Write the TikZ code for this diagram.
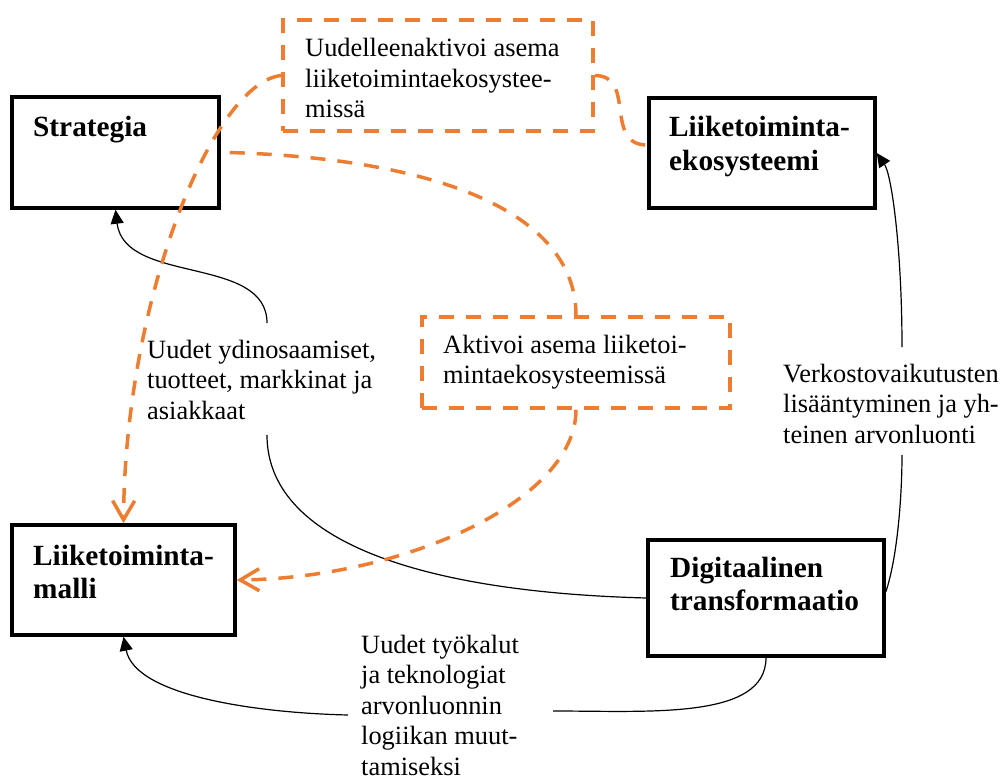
\documentclass[tikz,border=0pt]{standalone}
\usepackage{fontspec}
\setmainfont{Liberation Serif}
\usetikzlibrary{arrows.meta}
\definecolor{orng}{RGB}{237,125,49}
\begin{document}
\begin{tikzpicture}[x=1pt,y=-1pt,
  blackbox/.style={draw=black, line width=3.5pt, inner sep=0pt},
  orangebox/.style={draw=orng, line width=3.5pt, inner sep=0pt, dash pattern=on 15pt off 12pt},
  boxtext/.style={anchor=base west, inner sep=0pt, align=left, font=\fontsize{29.3}{33.5}\selectfont\bfseries},
  plaintext/.style={anchor=base west, inner sep=0pt, align=left, font=\fontsize{26.4}{30.5}\selectfont},
  blk/.style={draw=black, line width=1.2pt},
  blkarrow/.style={blk, -{Triangle[length=14pt,width=13pt]}},
  orn/.style={draw=orng, line width=3.5pt, dash pattern=on 15pt off 12pt},
  ornarrow/.style={orn, -{Straight Barb[length=19pt,width=22pt,line width=3.5pt]}}
]
\useasboundingbox (0,0) rectangle (1005,781);

% boxes
\node[blackbox, minimum width=207pt, minimum height=111pt] (strat) at (115.5,152.5) {};
\node[blackbox, minimum width=226pt, minimum height=110pt] (eko) at (762,153) {};
\node[blackbox, minimum width=223pt, minimum height=110pt] (mod) at (123.5,580) {};
\node[blackbox, minimum width=236pt, minimum height=116pt] (dt) at (766,598) {};
\node[orangebox, minimum width=310pt, minimum height=111pt] (box1) at (438,75.5) {};
\node[orangebox, minimum width=308pt, minimum height=91pt] (box2) at (576,362.5) {};

% box texts (anchor = baseline of the last line)
\node[boxtext] (tstrat) at (33,137) {Strategia};
\node[boxtext] (teko) at (669,170.5) {Liiketoiminta-\\ekosysteemi};
\node[boxtext] (tmod) at (33,598.5) {Liiketoiminta-\\malli};
\node[boxtext] (tdt) at (670,610.5) {Digitaalinen\\transformaatio};
\node[plaintext] (tbox1) at (305,118) {Uudelleenaktivoi asema\\liiketoimintaekosystee-\\missä};
\node[plaintext] (tbox2) at (443,383.5) {Aktivoi asema liiketoi-\\mintaekosysteemissä};

% labels
\node[plaintext] (lab1) at (147,419) {Uudet ydinosaamiset,\\tuotteet, markkinat ja\\asiakkaat};
\node[plaintext] (lab2) at (783,443) {Verkostovaikutusten\\lisääntyminen ja yh-\\teinen arvonluonti};
\node[plaintext] (lab3) at (361,775) {Uudet työkalut\\ja teknologiat\\arvonluonnin\\logiikan muut-\\tamiseksi};

% black connectors
\draw[blk] (dt.west) .. controls +(-228,-6) and +(0,105) .. ([xshift=120pt,yshift=-16pt]lab1.base west);
\draw[blkarrow] ([xshift=120pt,yshift=96pt]lab1.base west) .. controls +(0,-68) and +(9,75) .. (strat.south);

\draw[blk] ([yshift=6pt]dt.east) .. controls +(11,-32) and +(0,45) .. ([xshift=119pt,yshift=-12pt]lab2.base west);
\draw[blkarrow] ([xshift=119pt,yshift=96pt]lab2.base west) .. controls +(0,-97) and +(15,22) .. (eko.east);

\draw[blk] (dt.south) .. controls +(0,62) and +(97,0) .. ([xshift=192pt,yshift=64pt]lab3.base west);
\draw[blkarrow] ([xshift=-13pt,yshift=60pt]lab3.base west) .. controls +(-88,-2) and +(12,60) .. (mod.south);

% orange connectors
\draw[ornarrow] (box1.west) .. controls +(-68,7) and +(1.5,-225) .. (mod.north);
\draw[orn] (box1.east) .. controls +(42,0) and +(-44,0) .. ([yshift=8pt]eko.west);
\draw[orn] ([xshift=9pt]strat.east) .. controls +(222,7) and +(0,-97) .. (box2.north);
\draw[ornarrow] (box2.south) .. controls +(0,92) and +(165,-2) .. (mod.east);
\end{tikzpicture}
\end{document}
